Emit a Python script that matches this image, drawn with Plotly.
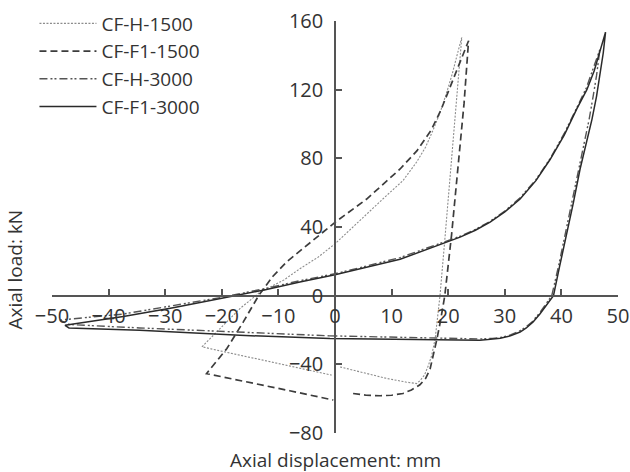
import plotly.graph_objects as go

# CF-H-1500 (dotted)
h1500_x = [0.9, 5.0, 9.1, 12.5, 14.4, 15.0, 15.8, 16.5, 17.1, 17.7, 18.55, 19.4, 20.1, 20.9, 21.6, 22.4,
           21.6, 20.7, 19.7, 18.6, 17.4, 16.0, 14.4, 12.0, 9.1, 4.0, 0.0, -3.0, -6.2, -9.0, -13.25,
           -16.8, -20.3, -23.5, -18.0, -12.0, -6.0, -0.6]
h1500_y = [-41.5, -44.7, -48.2, -50.3, -51.2, -49.6, -46.3, -40.7, -34.6, -25.0, 0.0, 32.5, 61.0, 91.5, 120.0, 150.5,
           140.5, 129.0, 118.0, 107.0, 97.0, 86.5, 77.7, 67.0, 58.3, 42.7, 30.2, 22.4, 15.7, 9.2, 2.0,
           -7.5, -19.2, -29.8, -33.8, -38.0, -42.2, -46.3]

# CF-F1-1500 (dashed)
f1500_x = [3.2, 5.5, 8.0, 10.0, 12.0, 13.5, 15.0, 16.0, 16.8, 17.4, 18.0, 18.6, 19.4, 20.6, 21.8, 22.8, 23.6,
           22.5, 21.3, 20.0, 18.7, 17.0, 14.5, 11.5, 5.6, 0.0, -3.0, -6.2, -8.5, -11.0, -13.5,
           -16.2, -19.1, -22.7, -15.0, -8.0, -0.3]
f1500_y = [-57.0, -58.0, -58.3, -58.0, -57.0, -54.9, -51.9, -48.3, -42.7, -34.6, -25.4, -15.3, 0.0, 35.6, 76.3, 112.0, 148.5,
           139.5, 129.0, 118.0, 108.0, 96.5, 84.5, 73.8, 56.3, 42.7, 34.6, 26.4, 19.8, 11.2, 0.0,
           -15.3, -30.8, -45.4, -50.5, -55.4, -60.8]

# CF-H-3000 (dash-dot)
h3000_x = [-1.0, 9.0, 17.4, 22.0, 25.6, 27.8, 29.2, 31.0, 32.5, 33.7, 34.8, 36.0, 37.1, 38.3,
           39.5, 40.6, 41.8, 43.0, 44.0, 44.9, 45.6, 46.2, 46.8,
           45.6, 44.4, 42.7, 40.5, 38.0, 35.5, 32.7, 30.0, 27.4, 24.8, 22.1, 19.0, 15.0, 11.5, 5.0, 0.0,
           -6.2, -12.1, -19.7, -28.6, -37.4, -48.6, -47.0, -34.5, -16.8, -1.0]
h3000_y = [-23.4, -24.2, -24.9, -25.2, -25.2, -24.9, -24.4, -22.9, -20.8, -18.3, -15.3, -10.7, -5.6, 0.0,
           17.3, 34.6, 53.9, 73.2, 88.5, 102.7, 116.0, 128.0, 143.4,
           132.0, 121.0, 109.3, 94.5, 79.8, 67.6, 57.0, 49.3, 43.3, 38.6, 34.6, 31.0, 26.4, 22.2, 16.8, 12.8,
           8.7, 4.3, -0.8, -5.8, -10.7, -14.2, -16.8, -18.8, -21.4, -23.4]

# CF-F1-3000 (solid)
f3000_x = [-0.9, 9.1, 17.4, 22.0, 25.6, 27.0, 29.2, 31.0, 32.7, 33.8, 35.0, 36.2, 37.4, 38.6,
           39.7, 40.9, 42.1, 43.3, 44.4, 45.4, 46.2, 46.8, 47.4, 47.8,
           46.8, 45.8, 44.5, 42.7, 40.5, 38.0, 35.5, 32.7, 30.0, 27.4, 24.8, 22.1, 19.0, 15.0, 11.5, 5.0, 0.0,
           -6.2, -12.1, -20.0, -28.6, -37.4, -46.2, -47.7, -47.0, -34.5, -16.8, -0.9]
f3000_y = [-25.0, -25.4, -25.9, -26.0, -25.9, -25.6, -24.8, -23.4, -21.2, -18.8, -15.3, -10.7, -5.6, 0.0,
           17.3, 35.1, 53.9, 73.8, 88.5, 102.7, 116.0, 128.0, 141.5, 153.5,
           142.5, 131.0, 120.0, 108.7, 93.5, 79.3, 67.0, 56.3, 48.8, 42.8, 38.1, 34.1, 30.3, 25.6, 21.2, 16.1, 12.2,
           7.9, 3.6, -1.5, -7.1, -12.2, -16.3, -17.3, -18.8, -20.1, -23.1, -25.0]

names = ["CF-H-1500", "CF-F1-1500", "CF-H-3000", "CF-F1-3000"]
xs = [h1500_x, f1500_x, h3000_x, f3000_x]
ys = [h1500_y, f1500_y, h3000_y, f3000_y]
styles = [
    dict(color="#8c8c8c", width=1.1, dash="2px,1.5px"),
    dict(color="#3c3c3c", width=1.7, dash="7px,4px"),
    dict(color="#555555", width=1.4, dash="8px,3px,2px,2px,2px,3px"),
    dict(color="#2a2a2a", width=1.5, dash="solid"),
]

x_ticks = [-50, -40, -30, -20, -10, 0, 10, 20, 30, 40, 50]
y_ticks = [-80, -40, 0, 40, 80, 120, 160]

fig = go.Figure()
for n, x, y, s in zip(names, xs, ys, styles):
    fig.add_trace(go.Scatter(x=x, y=y, mode="lines", name=n, line=s))

font_family = "Open Sans, DejaVu Sans, sans-serif"
FS = 20
fig.update_layout(
    width=630, height=472,
    margin=dict(l=52, r=12, t=21, b=38.5, autoexpand=False),
    paper_bgcolor="white", plot_bgcolor="white",
    font=dict(family=font_family, size=FS, color="#333333"),
    showlegend=True,
    legend=dict(x=-0.031, y=1.04, xanchor="left", yanchor="top",
                bgcolor="rgba(0,0,0,0)", font=dict(size=19, color="#333333"),
                itemwidth=57, tracegroupgap=0),
    xaxis=dict(range=[-50, 50], tickvals=x_ticks, anchor="free", position=1/3,
               automargin=False, ticklabelstandoff=3,
               showline=True, linecolor="#555555", linewidth=1.6,
               ticks="inside", ticklen=6, tickcolor="#555555", tickwidth=1.6,
               showgrid=False, zeroline=False, tickfont=dict(size=FS, color="#333333")),
    yaxis=dict(range=[-80, 160], tickvals=y_ticks, anchor="free", position=0.5,
               automargin=False, ticklabelstandoff=7,
               showline=True, linecolor="#555555", linewidth=1.6,
               ticks="inside", ticklen=6, tickcolor="#555555", tickwidth=1.6,
               showgrid=False, zeroline=False, tickfont=dict(size=FS, color="#333333")),
    annotations=[
        dict(text="Axial displacement: mm", xref="paper", yref="paper",
             x=0.5, y=-0.0667, xanchor="center", yanchor="middle", showarrow=False,
             font=dict(size=19, color="#333333")),
        dict(text="Axial load: kN", xref="paper", yref="paper",
             x=-0.066, y=0.396, xanchor="center", yanchor="middle", showarrow=False,
             textangle=-90, font=dict(size=19, color="#333333")),
    ],
)

fig.write_html("out.html")
